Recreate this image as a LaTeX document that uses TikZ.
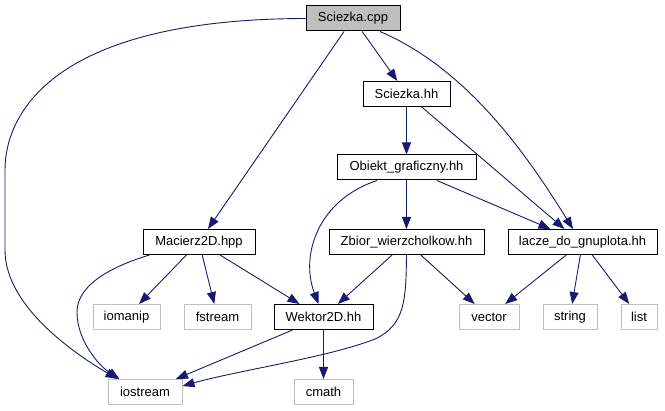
\documentclass[tikz,border=0pt]{standalone}
\usepackage{fontspec}
\setmainfont{Liberation Sans}
\usetikzlibrary{arrows.meta,calc}
\definecolor{edgeblue}{HTML}{191970}
\definecolor{sysgray}{HTML}{BFBFBF}
\begin{document}
\begin{tikzpicture}[x=1pt,y=-1pt,
  box/.style={draw=black,line width=1pt,fill=white,minimum height=25pt,inner sep=0pt,font=\fontsize{13}{15}\selectfont},
  sysbox/.style={box,draw=sysgray},
  rootbox/.style={box,fill=sysgray},
  edge/.style={draw=edgeblue,line width=0.9pt,-{Triangle[length=12pt,width=9pt]}}]
\useasboundingbox (0,0) rectangle (665,411);
% nodes
\node[rootbox,minimum width=94pt] (cpp) at (353,18.5) {Sciezka.cpp};
\node[box,minimum width=87pt] (shh) at (406.5,94) {Sciezka.hh};
\node[box,minimum width=139pt] (obj) at (406.5,167.5) {Obiekt\_graficzny.hh};
\node[box,minimum width=112pt] (mac) at (199,242) {Macierz2D.hpp};
\node[box,minimum width=155pt] (zbi) at (406.5,242) {Zbior\_wierzcholkow.hh};
\node[box,minimum width=149pt] (lac) at (582.5,242) {lacze\_do\_gnuplota.hh};
\node[sysbox,minimum width=67pt] (iom) at (126.5,317) {iomanip};
\node[sysbox,minimum width=67pt] (fst) at (217.5,317) {fstream};
\node[box,minimum width=99pt] (wek) at (323.5,317) {Wektor2D.hh};
\node[sysbox,minimum width=60pt] (vec) at (489,317) {vector};
\node[sysbox,minimum width=54pt] (str) at (570,317) {string};
\node[sysbox,minimum width=36pt] (lst) at (639,317) {list};
\node[sysbox,minimum width=74pt] (ios) at (145,392) {iostream};
\node[sysbox,minimum width=59pt] (cma) at (323.5,392) {cmath};
% edges
\draw[edge] (cpp.west) .. controls (51,19) and (5,115) .. (5,170) -- (5,250)
  .. controls (5,300) and (60,345) .. ($(ios.north west)+(10,0)$);
\draw[edge] (cpp) -- (mac);
\draw[edge] (cpp) -- (shh);
\draw[edge] ($(cpp.south)+(27,0)$) .. controls (470,70) and (530,160) .. ($(lac.north)+(-9.5,0)$);
\draw[edge] (shh) -- (obj);
\draw[edge] (shh) -- ($(lac.north)+(-18,0)$);
\draw[edge] (obj) -- (zbi);
\draw[edge] (obj) -- ($(lac.north)+(-32,0)$);
\draw[edge] ($(obj.south)+(-29.5,0)$) .. controls (318,200) and (300,255) .. ($(wek.north)+(-5,0)$);
\draw[edge] ($(mac.south west)+(7,0)$) .. controls (100,270) and (77,290) .. (77,312)
  .. controls (77,340) and (98,365) .. ($(ios.north west)+(12,0)$);
\draw[edge] (mac) -- (iom);
\draw[edge] (mac) -- (fst);
\draw[edge] (mac) -- ($(wek.north)+(-24,0)$);
\draw[edge] (zbi) -- (wek);
\draw[edge] (zbi) -- (vec);
\draw[edge] (zbi.south) .. controls (406,300) and (405,325) .. (375,339)
  .. controls (330,357) and (240,370) .. ($(ios.east)+(0,-6)$);
\draw[edge] (wek) -- (ios);
\draw[edge] (wek) -- (cma);
\draw[edge] (lac) -- (vec);
\draw[edge] (lac) -- (str);
\draw[edge] (lac) -- (lst);
\end{tikzpicture}
\end{document}
